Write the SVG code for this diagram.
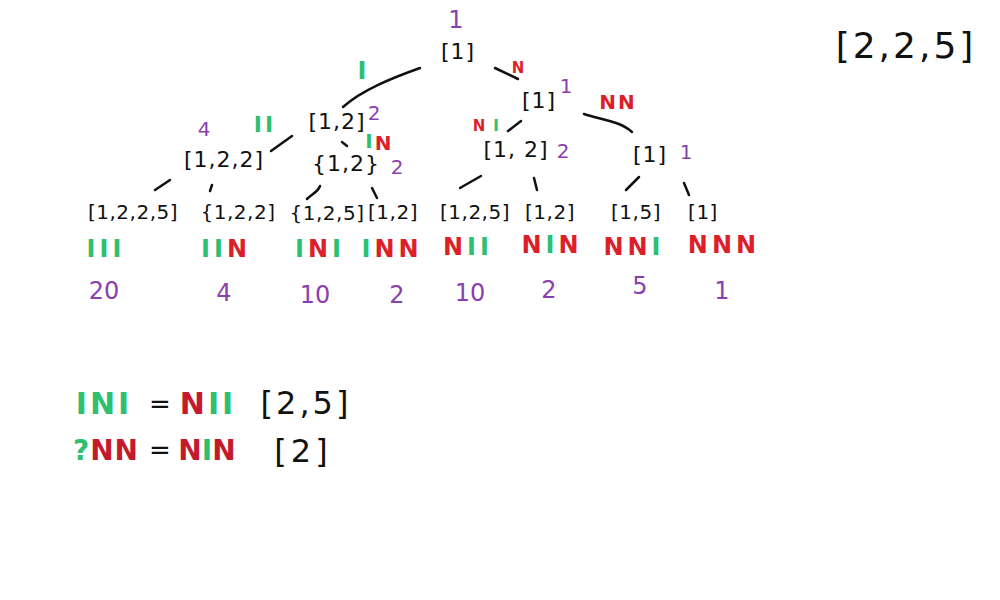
<svg xmlns="http://www.w3.org/2000/svg" width="1000" height="600" viewBox="0 0 1000 600">
<style>
text{font-family:"DejaVu Sans","Liberation Sans",sans-serif;text-anchor:middle}
.k{fill:#111;font-size:22px;letter-spacing:1px}
.lf{fill:#111;font-size:20px;letter-spacing:0.5px}
.p{fill:#8a3fb0;font-size:20px}
.g{fill:#2fbf70}
.r{fill:#dd1f2a}
.rd{fill:#c41a2e}
.lb{font-size:24px;letter-spacing:4px;font-weight:bold}
.n{fill:#8a3fb0;font-size:24px}
.b{font-weight:bold}
.c{fill:none;stroke:#111;stroke-width:2.5;stroke-linecap:round}
</style>
<rect width="1000" height="600" fill="#fff"/>
<g id="connectors">
<path class="c" d="M420 68 C392 78 362 90 343 107"/>
<path class="c" d="M495 68 L518 79"/>
<path class="c" d="M584 114 C602 120 620 121 632 132"/>
<path class="c" d="M508 131 L521 121"/>
<path class="c" d="M271 151 L292 136"/>
<path class="c" d="M342 142 L347 146"/>
<path class="c" d="M155 190 L170 180"/>
<path class="c" d="M210 191 L212 185"/>
<path class="c" d="M307 199 C312 194 318 192 320 186"/>
<path class="c" d="M372 188 L377 198"/>
<path class="c" d="M460 188 L481 176"/>
<path class="c" d="M534 178 L537 190"/>
<path class="c" d="M626 190 L639 177"/>
<path class="c" d="M684 183 L689 195"/>
</g>
<g id="edge-labels">
<text class="g b" x="362" y="79" font-size="24">I</text>
<text class="r b" x="518" y="73" font-size="15">N</text>
<text class="r b" x="618" y="109" font-size="20" letter-spacing="2">NN</text>
<text class="r b" x="479" y="131" font-size="15">N</text>
<text class="g b" x="496" y="131" font-size="15">I</text>
<text class="g b" x="265" y="132" font-size="22" letter-spacing="3">II</text>
<text class="g b" x="369" y="148" font-size="20">I</text>
<text class="r b" x="383" y="150" font-size="20">N</text>
</g>
<g id="root"><text class="n" x="456" y="28" font-size="18">1</text><text class="k" x="458" y="59" font-size="24">[1]</text></g>
<g id="n-L"><text class="k" x="337" y="129">[1,2]</text><text class="p" x="374" y="120">2</text></g>
<g id="n-R"><text class="k" x="539" y="108">[1]</text><text class="p" x="566" y="93" font-size="16">1</text></g>
<g id="n-LL"><text class="k" x="224" y="167">[1,2,2]</text><text class="p" x="204" y="136">4</text></g>
<g id="n-LR"><text class="k" x="346" y="171">{1,2}</text><text class="p" x="397" y="174">2</text></g>
<g id="n-RL"><text class="k" x="516" y="157">[1, 2]</text><text class="p" x="563" y="158" font-size="22">2</text></g>
<g id="n-RR"><text class="k" x="650" y="162">[1]</text><text class="p" x="686" y="159" font-size="26">1</text></g>
<g id="leaf-III"><text class="lf" x="133" y="219">[1,2,2,5]</text><text class="lb" x="106" y="257"><tspan class="g">III</tspan></text><text class="n" x="104" y="299">20</text></g>
<g id="leaf-IIN"><text class="lf" x="238" y="219">{1,2,2]</text><text class="lb" x="226" y="257"><tspan class="g">II</tspan><tspan class="r">N</tspan></text><text class="n" x="224" y="301">4</text></g>
<g id="leaf-INI"><text class="lf" x="327" y="220">{1,2,5]</text><text class="lb" x="320" y="257"><tspan class="g">I</tspan><tspan class="r">N</tspan><tspan class="g">I</tspan></text><text class="n" x="315" y="303">10</text></g>
<g id="leaf-INN"><text class="lf" x="393" y="219">[1,2]</text><text class="lb" x="392" y="257"><tspan class="g">I</tspan><tspan class="r">NN</tspan></text><text class="n" x="397" y="303">2</text></g>
<g id="leaf-NII"><text class="lf" x="475" y="219">[1,2,5]</text><text class="lb" x="468" y="255"><tspan class="r">N</tspan><tspan class="g">II</tspan></text><text class="n" x="470" y="301">10</text></g>
<g id="leaf-NIN"><text class="lf" x="550" y="219">[1,2]</text><text class="lb" x="552" y="253"><tspan class="r">N</tspan><tspan class="g">I</tspan><tspan class="r">N</tspan></text><text class="n" x="549" y="298">2</text></g>
<g id="leaf-NNI"><text class="lf" x="636" y="219">[1,5]</text><text class="lb" x="634" y="255"><tspan class="r">NN</tspan><tspan class="g">I</tspan></text><text class="n" x="640" y="294" font-size="18">5</text></g>
<g id="leaf-NNN"><text class="lf" x="703" y="219">[1]</text><text class="lb" x="724" y="253"><tspan class="r">NNN</tspan></text><text class="n" x="722" y="299" font-size="28">1</text></g>
<g id="eq1">
<text x="104" y="414" font-size="30" letter-spacing="3" class="g b">INI</text>
<text x="160" y="413" font-size="26" fill="#111">=</text>
<text x="208" y="414" font-size="30" letter-spacing="3" class="b"><tspan class="rd">N</tspan><tspan class="g">II</tspan></text>
<text x="306" y="414" font-size="32" letter-spacing="3" fill="#111">[2,5]</text>
</g>
<g id="eq2">
<text x="106" y="460" font-size="28" letter-spacing="1" class="b"><tspan class="g">?</tspan><tspan class="rd">NN</tspan></text>
<text x="160" y="459" font-size="26" fill="#111">=</text>
<text x="207" y="460" font-size="28" letter-spacing="0" class="b"><tspan class="rd">N</tspan><tspan class="g">I</tspan><tspan class="rd">N</tspan></text>
<text x="303" y="462" font-size="32" letter-spacing="4" fill="#111">[2]</text>
</g>
<g id="set"><text x="906" y="58" font-size="36" letter-spacing="3" fill="#111">[2,2,5]</text></g>
</svg>
